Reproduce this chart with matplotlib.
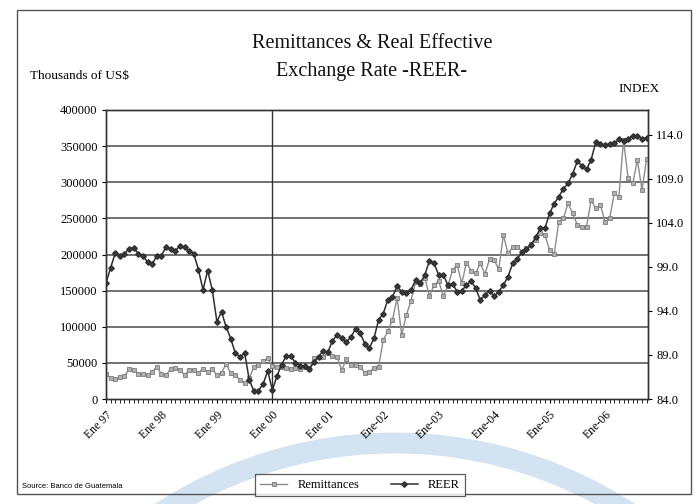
import matplotlib
matplotlib.use("Agg")
import matplotlib.pyplot as plt
from matplotlib.patches import Rectangle, Circle

plt.rcParams['font.family'] = ['Liberation Serif', 'DejaVu Serif']

# monthly data, Jan 1997 - Oct 2006
remittances = [34600, 28600, 27300, 30000, 31800, 41100, 40100, 34600, 34600, 33200, 37800, 44700,
               34600, 32800, 42000, 42500, 40100, 33200, 40100, 40100, 36400, 42000, 37800, 41100,
               33200, 36400, 48400, 35500, 33200, 26300, 22600, 28600, 44700, 47000, 53000, 56300,
               45000, 44700, 44700, 42500, 42000, 42500, 41100, 44700, 41100, 56300, 57700, 58500,
               63200, 59500, 58500, 40100, 54900, 47000, 47000, 44700, 36400, 37800, 42500, 44700,
               81700, 94000, 109300, 139800, 88600, 116300, 135600, 161900, 159200, 167500, 142600, 157800,
               163300, 142600, 156400, 178500, 185500, 160100, 188600, 177600, 174000, 187800, 173000, 193300,
               192400, 179500, 227000, 201700, 209900, 210800, 203900, 208600, 214500, 220100, 229300, 227000,
               206200, 200700, 245400, 250100, 270800, 257000, 240800, 238500, 238500, 275400, 263900, 268500,
               245400, 250100, 284700, 280000, 358500, 305500, 298500, 330800, 289300, 332000]

reer = [97.2, 98.9, 100.6, 100.25, 100.5, 101.1, 101.2, 100.5, 100.2, 99.6, 99.3, 100.3,
        100.3, 101.3, 101.0, 100.85, 101.4, 101.3, 100.85, 100.5, 98.7, 96.4, 98.6, 96.4,
        92.8, 93.9, 92.2, 90.85, 89.2, 88.8, 89.2, 86.2, 84.9, 84.95, 85.7, 87.2,
        85.0, 86.6, 87.9, 88.9, 88.9, 88.1, 87.8, 87.7, 87.4, 88.2, 88.8, 89.5,
        89.3, 90.6, 91.3, 90.9, 90.5, 91.0, 92.0, 91.5, 90.3, 89.8, 90.9, 93.0,
        93.7, 95.3, 95.6, 96.8, 96.2, 96.0, 96.4, 97.5, 97.2, 98.1, 99.7, 99.4,
        98.1, 98.1, 96.95, 97.1, 96.2, 96.3, 96.95, 97.4, 96.6, 95.25, 95.8, 96.3,
        95.7, 96.2, 96.95, 97.9, 99.4, 99.9, 100.7, 101.0, 101.5, 102.4, 103.4, 103.4,
        105.1, 106.2, 107.0, 107.9, 108.5, 109.6, 111.0, 110.5, 110.1, 111.2, 113.2, 112.95,
        112.9, 112.95, 113.05, 113.5, 113.35, 113.6, 113.9, 113.9, 113.6, 113.7]

year_labels = ['Ene 97', 'Ene 98', 'Ene 99', 'Ene 00', 'Ene 01',
               'Ene-02', 'Ene-03', 'Ene-04', 'Ene-05', 'Ene-06']
left_ticks = [0, 50000, 100000, 150000, 200000, 250000, 300000, 350000, 400000]
right_ticks = [84.0, 89.0, 94.0, 99.0, 104.0, 109.0, 114.0]

months = list(range(len(reer)))

fig = plt.figure(figsize=(6.97, 5.04), dpi=100)

# background: scanned watermark arc and outer frame
bg = fig.add_axes([0, 0, 1, 1], zorder=-5)
bg.set_xlim(0, 697)
bg.set_ylim(504, 0)
bg.axis('off')
bg.add_patch(Circle((395, 872), 429, fill=False, lw=15, ec='#d3e3f2'))
bg.add_patch(Rectangle((17, 10), 674, 484, fill=False, lw=1.0, ec='#555555'))

ax = fig.add_axes([106/697, 1-399/504, 542/697, 289/504])
ax2 = ax.twinx()

ax.set_ylim(0, 400000)
ax.set_xlim(0, 117.3)
ax.set_yticks(left_ticks)
ax.set_yticklabels([str(v) for v in left_ticks], fontsize=9)
for v in left_ticks[1:-1]:
    ax.axhline(v, color='#4a4a4a', lw=1.1, zorder=1)
ax.axvline(36, color='#333333', lw=1.0, zorder=1)

ax.set_xticks(list(range(0, 118, 12)))
ax.set_xticklabels(year_labels, rotation=45, ha='right', rotation_mode='anchor',
                   fontsize=8.5)
ax.set_xticks(months, minor=True)
ax.tick_params(axis='x', which='both', length=3, direction='out', pad=4)
ax.tick_params(axis='y', length=3, pad=3)

l1, = ax.plot(months, remittances, color='#8c8c8c', lw=1.0, marker='s', ms=2.8,
              mfc='#b0b0b0', mec='#7a7a7a', mew=0.6, zorder=3, label='Remittances')

ax2.set_ylim(84, 116.84)
ax2.set_yticks(right_ticks)
ax2.set_yticklabels(['%.1f' % v for v in right_ticks], fontsize=9)
ax2.tick_params(axis='y', length=3, pad=3)
l2, = ax2.plot(months, reer, color='#2e2e2e', lw=1.1, marker='D', ms=2.8,
               mfc='#3a3a3a', mec='#2e2e2e', zorder=4, label='REER')

for a in (ax, ax2):
    for s in a.spines.values():
        s.set_color('#333333')
        s.set_linewidth(1.0)

fig.text(372/697, 1-43/504, 'Remittances & Real Effective', ha='center', va='center',
         fontsize=14.5, color='#111111')
fig.text(372/697, 1-72/504, 'Exchange Rate -REER-', ha='center', va='center',
         fontsize=14.5, color='#111111')
fig.text(30/697, 1-76/504, 'Thousands of US$', ha='left', va='center', fontsize=9.5)
fig.text(660/697, 1-89/504, 'INDEX', ha='right', va='center', fontsize=9.5)
fig.text(22/697, 1-487/504, 'Source: Banco de Guatemala', ha='left', va='center',
         fontsize=5.5, family=['Liberation Sans', 'DejaVu Sans'])

leg = fig.legend([l1, l2], ['Remittances', 'REER'], loc='center',
                 bbox_to_anchor=(360/697, 1-485/504), ncol=2, frameon=True,
                 fancybox=False, fontsize=9, handlelength=2.2, columnspacing=2.5,
                 borderpad=0.4)
leg.get_frame().set_edgecolor('#333333')
leg.get_frame().set_linewidth(0.9)

fig.savefig('out.png', dpi=100)
